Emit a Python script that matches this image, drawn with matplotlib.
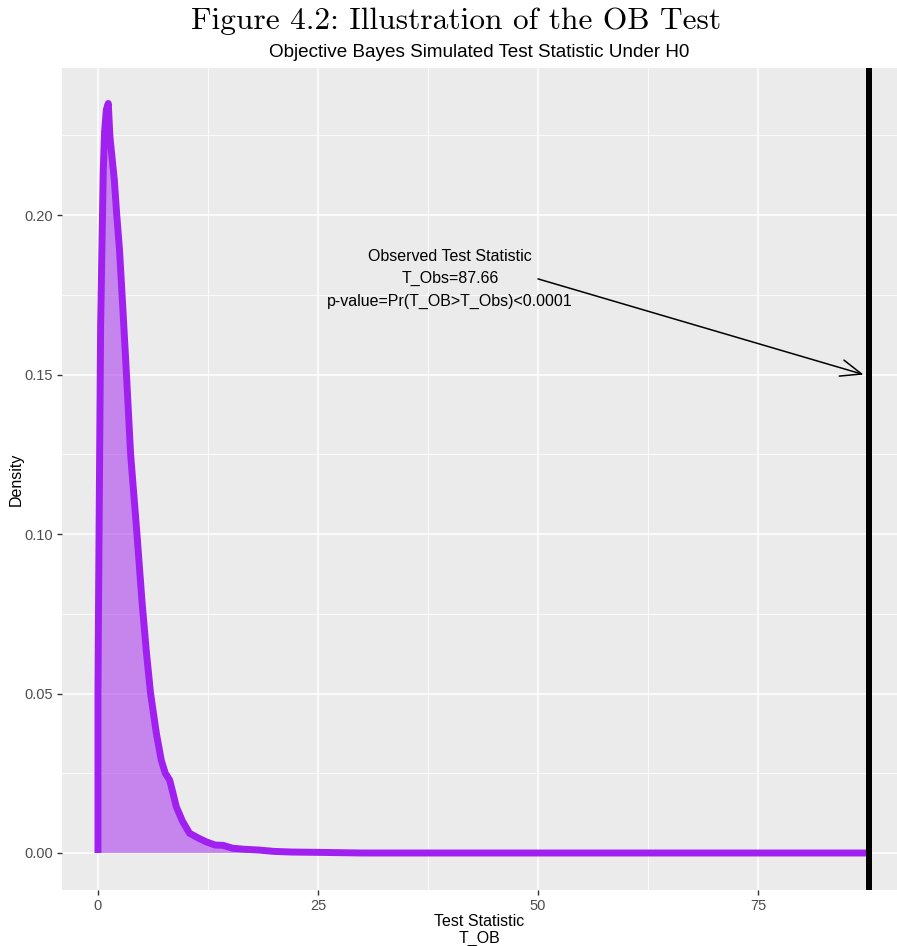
import numpy as np
import matplotlib.pyplot as plt

# density of the simulated T_OB under H0
t_ob = [0.0, 0.05, 0.19, 0.3, 0.45, 0.6, 0.75, 0.95, 1.17, 1.36, 1.6, 1.86, 2.12,
        2.45, 2.8, 3.2, 3.71, 4.43, 5.0, 5.5, 5.98, 6.63, 7.2, 7.65, 8.14, 8.5,
        8.9, 9.6, 10.4, 11.4, 12.3, 13.3, 14.2, 15.3, 16.5, 18.4, 20.0, 22.0,
        25.0, 30.0, 87.66]
density = [0.05, 0.073, 0.125, 0.165, 0.19, 0.214, 0.226, 0.233, 0.235, 0.2245,
           0.218, 0.211, 0.2005, 0.189, 0.172, 0.152, 0.125, 0.100, 0.079, 0.063,
           0.050, 0.0376, 0.029, 0.025, 0.0229, 0.019, 0.0145, 0.010, 0.0062,
           0.0047, 0.0035, 0.0025, 0.0024, 0.0015, 0.0012, 0.0009, 0.0005,
           0.0003, 0.0002, 0.0, 0.0]
t_obs = 87.66
x_ticks = [0, 25, 50, 75]
y_ticks = [0.00, 0.05, 0.10, 0.15, 0.20]

purple = '#A020F0'
plt.rcParams['font.family'] = ['Liberation Sans', 'DejaVu Sans']

fig = plt.figure(figsize=(8.97, 9.46), dpi=100)
ax = fig.add_axes([0.0691, 0.0592, 0.9309, 0.8692])
ax.set_facecolor('#EBEBEB')
for s in ax.spines.values():
    s.set_visible(False)

# grid, ggplot style
ax.set_xticks(x_ticks)
ax.set_xticks([12.5, 37.5, 62.5, 87.5], minor=True)
ax.set_yticks(y_ticks)
ax.set_yticks([0.025, 0.075, 0.125, 0.175, 0.225], minor=True)
ax.grid(which='major', color='white', lw=1.1)
ax.grid(which='minor', color='white', lw=0.55)
ax.set_axisbelow(True)
ax.tick_params(which='minor', length=0)
ax.tick_params(which='major', length=3.5, width=1, color='#333333',
               labelcolor='#4D4D4D', labelsize=10.5, pad=3)
ax.set_yticklabels(['%.2f' % v for v in y_ticks])

# density polygon (filled, outlined)
px = [t_ob[0]] + t_ob + [t_ob[-1]]
py = [0] + density + [0]
ax.fill(px, py, facecolor=purple, alpha=0.5, edgecolor='none')
ax.plot(px, py, color=purple, lw=5, solid_joinstyle='round',
        solid_capstyle='butt')

ax.axvline(t_obs, color='black', lw=4.3)

ax.annotate('', xy=(87.0, 0.15), xytext=(50, 0.18),
            arrowprops=dict(arrowstyle='->,head_length=0.75,head_width=0.3',
                            lw=1.1, color='black', mutation_scale=20,
                            shrinkA=0, shrinkB=0))
ax.text(40, 0.18, 'Observed Test Statistic\nT_Obs=87.66\np-value=Pr(T_OB>T_Obs)<0.0001',
        ha='center', va='center', fontsize=11.5, linespacing=1.6)

ax.set_xlim(-4.09, 90.8)
ax.set_ylim(-0.0116, 0.2462)

ax.set_xlabel('Test Statistic\nT_OB', fontsize=11.5, labelpad=1, linespacing=1.1)
ax.set_ylabel('Density', fontsize=11.5, labelpad=0)
ax.set_title('Objective Bayes Simulated Test Statistic Under H0', fontsize=13.6, pad=8)
fig.text(0.508, 0.978, 'Figure 4.2: Illustration of the OB Test', family='cmr10',
         fontsize=22.6, ha='center', va='center')

plt.savefig('out.png', dpi=100)
